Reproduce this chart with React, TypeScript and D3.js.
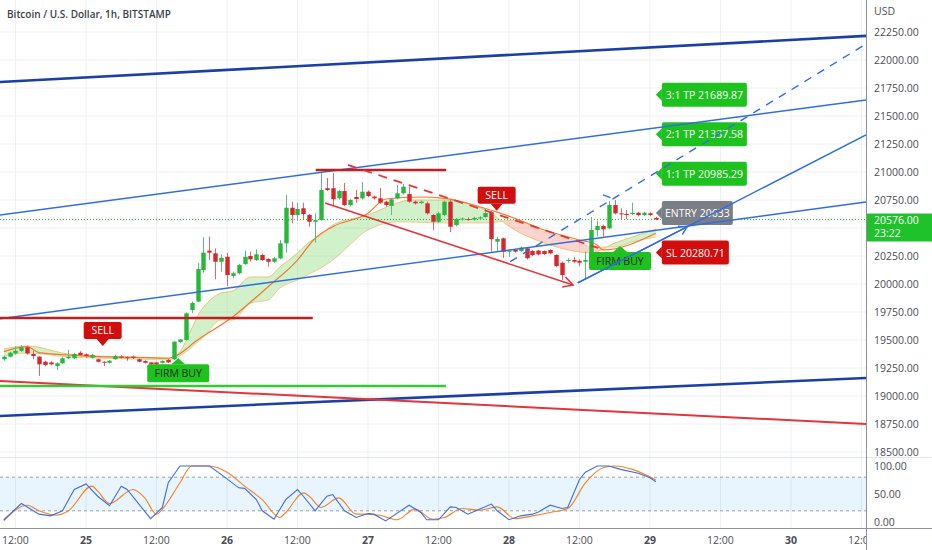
import React from 'react';
import * as d3 from 'd3';

// ---------- DATA ----------
// hourly candles, hour offset from 24 Sep 00:00, first candle at firstHour
const firstHour = 10;
const candleOpen = [
  19328, 19351, 19381, 19404, 19435, 19375, 19351, 19306, 19300, 19268, 19292, 19337, 19337, 19386, 19372, 19342,
  19328, 19306, 19297, 19328, 19351, 19346, 19351, 19328, 19312, 19300, 19300, 19297, 19321, 19328, 19483, 19500,
  19768, 19843, 20125, 20298, 20274, 20199, 20243, 20072, 20096, 20179, 20250, 20214, 20259, 20223, 20199, 20229,
  20363, 20681, 20616, 20676, 20616, 20556, 20571, 20855, 20855, 20766, 20830, 20705, 20777, 20765, 20824, 20780,
  20765, 20735, 20697, 20765, 20810, 20803, 20735, 20723, 20720, 20616, 20556, 20616, 20735, 20527, 20575, 20580,
  20575, 20585, 20598, 20640, 20378, 20408, 20289, 20304, 20295, 20319, 20295, 20298, 20295, 20304, 20259, 20190,
  20207, 20214, 20207, 20199, 20214, 20482, 20518, 20497, 20705, 20631, 20625, 20625, 20636, 20616, 20631, 20590,
];
const candleHigh = [
  19360, 19395, 19445, 19455, 19450, 19404, 19355, 19315, 19310, 19300, 19345, 19411, 19385, 19400, 19380, 19375,
  19335, 19310, 19320, 19370, 19365, 19355, 19360, 19335, 19320, 19305, 19305, 19320, 19330, 19490, 19510, 19745,
  19843, 20187, 20417, 20423, 20318, 20265, 20277, 20110, 20180, 20298, 20289, 20310, 20270, 20230, 20240, 20393,
  20795, 20735, 20726, 20726, 20625, 20631, 20998, 20947, 20991, 20840, 20902, 20760, 20839, 20911, 20835, 20790,
  20857, 20745, 20765, 20884, 20893, 20869, 20745, 20745, 20735, 20625, 20640, 20745, 20759, 20590, 20595, 20595,
  20600, 20605, 20680, 20650, 20423, 20415, 20305, 20315, 20335, 20330, 20305, 20305, 20300, 20310, 20265, 20200,
  20230, 20240, 20220, 20289, 20598, 20565, 20530, 20741, 20750, 20676, 20661, 20726, 20645, 20645, 20640, 20600,
];
const candleLow = [
  19315, 19345, 19370, 19395, 19370, 19328, 19179, 19265, 19275, 19232, 19285, 19330, 19330, 19360, 19340, 19335,
  19300, 19268, 19290, 19325, 19335, 19315, 19330, 19300, 19290, 19275, 19275, 19290, 19295, 19320, 19475, 19495,
  19740, 19838, 20101, 20214, 20042, 20110, 19982, 20050, 20085, 20170, 20199, 20205, 20205, 20155, 20190, 20220,
  20280, 20542, 20565, 20578, 20511, 20369, 20565, 20830, 20697, 20755, 20695, 20690, 20723, 20755, 20775, 20755,
  20715, 20690, 20616, 20755, 20800, 20725, 20710, 20715, 20620, 20482, 20545, 20605, 20464, 20515, 20565, 20565,
  20565, 20575, 20590, 20288, 20288, 20232, 20243, 20280, 20285, 20220, 20250, 20255, 20260, 20265, 20150, 20036,
  20190, 20185, 20160, 20036, 20205, 20423, 20423, 20490, 20620, 20571, 20580, 20615, 20605, 20605, 20605, 20570,
];
const candleClose = [
  19351, 19386, 19404, 19434, 19380, 19357, 19283, 19277, 19283, 19292, 19337, 19351, 19375, 19366, 19357, 19366,
  19306, 19297, 19315, 19357, 19342, 19337, 19340, 19306, 19297, 19283, 19283, 19312, 19300, 19485, 19505, 19738,
  19830, 20134, 20280, 20280, 20199, 20234, 20080, 20096, 20170, 20243, 20220, 20265, 20214, 20199, 20229, 20363,
  20681, 20616, 20670, 20625, 20556, 20571, 20839, 20839, 20757, 20830, 20705, 20750, 20759, 20824, 20786, 20765,
  20726, 20705, 20756, 20810, 20869, 20735, 20720, 20735, 20631, 20556, 20631, 20735, 20511, 20580, 20584, 20575,
  20590, 20595, 20633, 20402, 20402, 20288, 20298, 20289, 20325, 20230, 20259, 20265, 20268, 20274, 20161, 20080,
  20214, 20199, 20190, 20214, 20482, 20518, 20488, 20705, 20631, 20625, 20616, 20636, 20616, 20636, 20616, 20576,
];
const lastPrice = 20576;
const lastPriceTime = '23:22';

// EMA ribbon (fast / slow) and orange EMA, sampled at hours
const ribbonHours = [10, 14, 21, 26, 32, 38, 39, 44, 47, 49, 52, 55, 57, 60, 62, 64, 66, 72, 77, 79, 85, 92, 97, 102, 108, 110, 114, 117, 121];
const ribbonFast = [19420, 19447, 19375, 19357, 19348, 19339, 19348, 19795, 19920, 19938, 20063, 20063, 20152, 20277, 20375, 20438, 20527, 20616, 20723, 20750, 20750, 20661, 20482, 20366, 20286, 20277, 20366, 20420, 20491];
const ribbonSlow = [19357, 19384, 19348, 19339, 19330, 19322, 19335, 19527, 19679, 19679, 19830, 19857, 19964, 20036, 20090, 20143, 20214, 20482, 20554, 20554, 20545, 20545, 20572, 20465, 20375, 20330, 20330, 20375, 20420];
const emaHours = [10, 14, 16, 21, 26, 32, 38, 39, 43, 49, 55, 60, 63, 66, 72, 75, 81, 85, 91, 97, 102, 108, 111, 112, 121];
const emaValues = [19396, 19440, 19387, 19366, 19351, 19346, 19337, 19351, 19500, 19708, 19976, 20214, 20408, 20512, 20631, 20759, 20777, 20765, 20690, 20587, 20482, 20393, 20348, 20304, 20453];

// Stochastic %K and %D
const stochKHours = [10, 13, 16, 18, 20, 22, 24, 26, 28, 30, 31, 35, 37, 38, 40, 45, 47, 50, 51, 53, 54, 56, 58, 60, 61, 63, 65, 66, 68, 70, 72, 73, 75, 79, 81, 82, 84, 86, 87, 89, 93, 94, 96, 98, 100, 101, 103, 105, 106, 108, 109, 111, 113, 115, 118, 120, 121];
const stochK = [4, 33, 14, 11, 20, 58, 68, 46, 29, 64, 58, 6, 26, 70, 100, 100, 85, 61, 60, 40, 20, 5, 40, 58, 46, 20, 46, 49, 20, 8, 15, 14, 2, 30, 17, 4, 4, 27, 26, 14, 32, 20, 4, 11, 14, 18, 30, 24, 26, 76, 89, 100, 100, 94, 87, 79, 72];
const stochDHours = [10, 14, 16, 19, 21, 25, 26, 28, 32, 34, 36, 37, 40, 42, 45, 48, 51, 54, 57, 58, 61, 62, 64, 67, 70, 71, 74, 77, 80, 83, 85, 88, 91, 94, 97, 100, 103, 106, 109, 112, 114, 117, 121];
const stochD = [2, 30, 20, 12, 20, 64, 55, 33, 58, 43, 14, 23, 70, 100, 100, 89, 64, 40, 8, 17, 52, 46, 26, 43, 14, 14, 12, 4, 23, 5, 8, 24, 21, 27, 6, 11, 17, 24, 70, 97, 100, 94, 75];

// Drawings: [hour1, price1, hour2, price2]
const navyChannel = [[9.36, 21804, 156.77, 22215], [9.36, 18822, 156.77, 19161]];
const blueChannel = [[9.36, 20616, 156.77, 21643], [9.36, 19690, 156.77, 20732], [107.7, 20009, 156.77, 21331]];
const blueDashed = [[96.2, 20199, 156.77, 22143], [112, 20795, 113.9, 20759]];
const blueArrow = [[107.7, 20009, 126.3, 20510]];
const redTrend = [[9.36, 19134, 156.77, 18750]];
const redLevels = [[63.1, 21018, 85.3, 21018], [9.36, 19697, 62.6, 19697]];
const greenLevels = [[9.36, 19089, 85.3, 19089]];
const redDashed = [[68.6, 21063, 111.2, 20322]];
const redArrow = [[64.7, 20723, 106.9, 19991]];

// Signal labels: [hour, price]
const sellSignals = [[26.84, 19447], [93.9, 20655]];
const buySignals = [[39.7, 19337], [114.9, 20339]];
const riskHour = 121;
const riskTexts = ['3:1 TP 21689.87', '2:1 TP 21337.58', '1:1 TP 20985.29', 'ENTRY 20633', 'SL 20280.71'];
const riskPrices = [21689.87, 21337.58, 20985.29, 20633, 20280.71];
const riskKinds = ['tp', 'tp', 'tp', 'entry', 'sl'];

// Axes
const priceTicks = [22250, 22000, 21750, 21500, 21250, 21000, 20750, 20500, 20250, 20000, 19750, 19500, 19250, 19000, 18750, 18500];
const stochTicks = [100, 50, 0];
const timeTickHours = [12, 24, 36, 48, 60, 72, 84, 96, 108, 120, 132, 144, 156];
const timeTickLabels = ['12:00', '25', '12:00', '26', '12:00', '27', '12:00', '28', '12:00', '29', '12:00', '30', '12:00'];
const title = 'Bitcoin / U.S. Dollar, 1h, BITSTAMP';

// ---------- CHART ----------
const W = 932;
const H = 550;
const PLOT_R = 866;
const MAIN_B = 457;
const STOCH_B = 528;
const FONT = "'Open Sans', 'DejaVu Sans', sans-serif";

export default function App() {
  const x = d3.scaleLinear().domain([9.362, 156.77]).range([0, PLOT_R]);
  const y = d3.scaleLinear().domain([18500, 22250]).range([452, 32]);
  const ys = d3.scaleLinear().domain([0, 100]).range([522, 466]);

  const seg = (d: number[]) => ({ x1: x(d[0]), y1: y(d[1]), x2: x(d[2]), y2: y(d[3]) });

  const arrowHead = (d: number[], len = 10, spread = 0.5) => {
    const s = seg(d);
    const a = Math.atan2(s.y2 - s.y1, s.x2 - s.x1);
    const p1 = [s.x2 - len * Math.cos(a - spread), s.y2 - len * Math.sin(a - spread)];
    const p2 = [s.x2 - len * Math.cos(a + spread), s.y2 - len * Math.sin(a + spread)];
    return `M${p1[0]},${p1[1]}L${s.x2},${s.y2}L${p2[0]},${p2[1]}`;
  };

  const ribbon = ribbonHours.map((h, i) => ({ h, f: ribbonFast[i], s: ribbonSlow[i] }));
  const curve = d3.curveMonotoneX;
  const between = d3.area<any>().x((d) => x(d.h)).y0((d) => y(d.f)).y1((d) => y(d.s)).curve(curve)(ribbon) || '';
  const aboveSlow = d3.area<any>().x((d) => x(d.h)).y0(0).y1((d) => y(d.s)).curve(curve)(ribbon) || '';
  const belowSlow = d3.area<any>().x((d) => x(d.h)).y0(H).y1((d) => y(d.s)).curve(curve)(ribbon) || '';
  const fastLine = d3.line<any>().x((d) => x(d.h)).y((d) => y(d.f)).curve(curve)(ribbon) || '';
  const slowLine = d3.line<any>().x((d) => x(d.h)).y((d) => y(d.s)).curve(curve)(ribbon) || '';
  const emaLine = d3.line<number>().x((h) => x(h)).y((h, i) => y(emaValues[i])).curve(curve)(emaHours) || '';

  const kLine = d3.line<number>().x((h) => x(h)).y((h, i) => ys(stochK[i]))(stochKHours) || '';
  const dLine = d3.line<number>().x((h) => x(h)).y((h, i) => ys(stochD[i])).curve(d3.curveMonotoneX)(stochDHours) || '';

  const GREEN = '#26b83a';
  const RED = '#d7262d';
  const GREEN_WICK = '#5db896';
  const RED_WICK = '#e8646c';
  const LABEL_GREEN = '#1ec21e';
  const LABEL_RED = '#d10d0d';

  const boxTop = y(lastPrice) - 6;
  const boxBottom = boxTop + 28;

  return (
    <svg width={W} height={H} style={{ position: 'absolute', left: 0, top: 0, background: '#fff' }} fontFamily={FONT}>
      <defs>
        <clipPath id="plot"><rect x={0} y={0} width={PLOT_R} height={MAIN_B} /></clipPath>
        <clipPath id="stoch"><rect x={0} y={MAIN_B + 1} width={PLOT_R} height={STOCH_B - MAIN_B - 1} /></clipPath>
        <clipPath id="timeAxis"><rect x={0} y={STOCH_B} width={PLOT_R} height={H - STOCH_B} /></clipPath>
        <clipPath id="aboveSlow"><path d={aboveSlow} /></clipPath>
        <clipPath id="belowSlow"><path d={belowSlow} /></clipPath>
      </defs>
      <rect x={0} y={0} width={W} height={H} fill="#fff" />

      {/* grid */}
      {timeTickHours.map((h, i) => (
        <line key={'vg' + i} x1={x(h)} x2={x(h)} y1={0} y2={STOCH_B} stroke="#eef0f4" strokeWidth={1} />
      ))}
      {priceTicks.map((p, i) => (
        <line key={'hg' + i} x1={0} x2={PLOT_R} y1={y(p)} y2={y(p)} stroke="#eef0f4" strokeWidth={1} />
      ))}

      {/* title */}
      <text x={7} y={18} fontSize={10} fontWeight={600} fill="#3b3f4a">{title}</text>

      <g clipPath="url(#plot)">
        {/* ribbon */}
        <path d={between} fill="rgba(110,210,90,0.32)" clipPath="url(#aboveSlow)" />
        <path d={between} fill="rgba(240,120,100,0.32)" clipPath="url(#belowSlow)" />
        <path d={fastLine} fill="none" stroke="#f1b45e" strokeWidth={0.8} />
        <path d={slowLine} fill="none" stroke="#efc27e" strokeWidth={0.8} />
        <path d={emaLine} fill="none" stroke="#f07a2a" strokeWidth={1.2} />

        {/* last price dotted */}
        <line x1={0} x2={PLOT_R} y1={y(lastPrice)} y2={y(lastPrice)} stroke={GREEN} strokeWidth={1} strokeDasharray="1,2" />

        {/* candles */}
        {candleOpen.map((o, i) => {
          const c = candleClose[i];
          const cx = Math.round(x(firstHour + i)) + 0.5;
          const up = c >= o;
          const top = y(Math.max(o, c));
          const bot = y(Math.min(o, c));
          return (
            <g key={'c' + i}>
              <line x1={cx} x2={cx} y1={y(candleHigh[i])} y2={y(candleLow[i])} stroke={up ? GREEN_WICK : RED_WICK} strokeWidth={1} />
              <rect x={cx - 2.2} y={top} width={4.4} height={Math.max(1, bot - top)} fill={up ? GREEN : RED} />
            </g>
          );
        })}

        {/* sell labels */}
        {sellSignals.map((s, i) => {
          const cx = x(s[0]);
          const tip = y(s[1]);
          const w = 38, h = 17, ptr = 7;
          const top = tip - ptr - h;
          return (
            <g key={'sell' + i}>
              <rect x={cx - w / 2} y={top} width={w} height={h} rx={2} fill={LABEL_RED} />
              <path d={`M${cx - 6},${top + h}L${cx + 6},${top + h}L${cx},${tip}Z`} fill={LABEL_RED} />
              <text x={cx} y={top + h / 2 + 4} textAnchor="middle" fontSize={10.5} fill="#fff">SELL</text>
            </g>
          );
        })}

        {/* buy labels */}
        {buySignals.map((s, i) => {
          const cx = x(s[0]);
          const tip = y(s[1]);
          const w = 62, h = 18, ptr = 6;
          const top = tip + ptr;
          return (
            <g key={'buy' + i}>
              <rect x={cx - w / 2} y={top} width={w} height={h} rx={2} fill={LABEL_GREEN} />
              <path d={`M${cx - 7},${top}L${cx + 7},${top}L${cx},${tip}Z`} fill={LABEL_GREEN} />
              <text x={cx} y={top + h / 2 + 4} textAnchor="middle" fontSize={10.5} fill="#1d2b1d">FIRM BUY</text>
            </g>
          );
        })}

        {/* risk labels */}
        {riskTexts.map((t, i) => {
          const tipX = x(riskHour);
          const cy = y(riskPrices[i]);
          const kind = riskKinds[i];
          const w = kind === 'tp' ? 85 : kind === 'entry' ? 71 : 67;
          const h = 24, ptr = 6;
          const left = tipX + ptr;
          const fill = kind === 'tp' ? LABEL_GREEN : kind === 'entry' ? '#7b7e86' : LABEL_RED;
          return (
            <g key={'risk' + i}>
              <rect x={left} y={cy - h / 2} width={w} height={h} rx={2} fill={fill} />
              <path d={`M${left},${cy - 6}L${left},${cy + 6}L${tipX},${cy}Z`} fill={fill} />
              <text x={left + w / 2} y={cy + 4} textAnchor="middle" fontSize={10.5} fill="#fff">{t}</text>
            </g>
          );
        })}

        {/* drawings */}
        {navyChannel.map((d, i) => <line key={'nv' + i} {...seg(d)} stroke="#1b3fa6" strokeWidth={2.6} />)}
        {blueChannel.map((d, i) => <line key={'bc' + i} {...seg(d)} stroke="#2f6ee0" strokeWidth={1.4} />)}
        {blueDashed.map((d, i) => <line key={'bd' + i} {...seg(d)} stroke="#2f6ee0" strokeWidth={1.4} strokeDasharray="8,7" />)}
        {blueArrow.map((d, i) => (
          <g key={'ba' + i}>
            <line {...seg(d)} stroke="#2f6ee0" strokeWidth={1.4} />
            <path d={arrowHead(d, 9, 0.55)} fill="none" stroke="#2f6ee0" strokeWidth={1.4} />
          </g>
        ))}
        {redTrend.map((d, i) => <line key={'rt' + i} {...seg(d)} stroke="#e5343b" strokeWidth={2} />)}
        {redLevels.map((d, i) => <line key={'rl' + i} {...seg(d)} stroke="#c41d1d" strokeWidth={2.6} />)}
        {greenLevels.map((d, i) => <line key={'gl' + i} {...seg(d)} stroke="#37c837" strokeWidth={2.6} />)}
        {redDashed.map((d, i) => <line key={'rd' + i} {...seg(d)} stroke="#e5343b" strokeWidth={1.8} strokeDasharray="9,7" />)}
        {redArrow.map((d, i) => (
          <g key={'ra' + i}>
            <line {...seg(d)} stroke="#e5343b" strokeWidth={1.6} />
            <path d={arrowHead(d, 11, 0.5)} fill="none" stroke="#e5343b" strokeWidth={1.6} />
          </g>
        ))}
      </g>

      {/* pane separator */}
      <line x1={0} x2={W} y1={MAIN_B + 0.5} y2={MAIN_B + 0.5} stroke="#e0e3eb" strokeWidth={1} />

      {/* stochastic pane */}
      <g clipPath="url(#stoch)">
        <rect x={0} y={ys(80)} width={PLOT_R} height={ys(20) - ys(80)} fill="rgba(33,150,243,0.1)" />
        <line x1={0} x2={PLOT_R} y1={ys(80)} y2={ys(80)} stroke="#9a9ea6" strokeWidth={1} strokeDasharray="3,3" />
        <line x1={0} x2={PLOT_R} y1={ys(20)} y2={ys(20)} stroke="#9a9ea6" strokeWidth={1} strokeDasharray="3,3" />
        <path d={dLine} fill="none" stroke="#f5821f" strokeWidth={1.1} />
        <path d={kLine} fill="none" stroke="#3d6fe0" strokeWidth={1.1} />
      </g>

      {/* axes borders */}
      <line x1={PLOT_R + 0.5} x2={PLOT_R + 0.5} y1={0} y2={H} stroke="#8e9196" strokeWidth={1} />
      <line x1={0} x2={W} y1={STOCH_B + 0.5} y2={STOCH_B + 0.5} stroke="#8e9196" strokeWidth={1} />

      {/* price axis (labels hidden under the last-price box are skipped) */}
      <text x={874} y={15} fontSize={10.5} fill="#4a4d55">USD</text>
      {priceTicks.filter((p) => y(p) + 6 < boxTop || y(p) - 6 > boxBottom).map((p, i) => (
        <text key={'pt' + i} x={874} y={y(p) + 4} fontSize={10.5} fill="#4a4d55">{p.toFixed(2)}</text>
      ))}
      <rect x={PLOT_R + 1} y={boxTop} width={W - PLOT_R - 1} height={28} fill="#1fc22a" />
      <text x={874} y={y(lastPrice) + 5} fontSize={10.5} fill="#fff">{lastPrice.toFixed(2)}</text>
      <text x={874} y={y(lastPrice) + 18} fontSize={10.5} fill="#fff">{lastPriceTime}</text>

      {/* stoch axis */}
      {stochTicks.map((v, i) => (
        <text key={'st' + i} x={874} y={ys(v) + 4} fontSize={10.5} fill="#4a4d55">{v.toFixed(2)}</text>
      ))}

      {/* time axis */}
      <g clipPath="url(#timeAxis)">
        {timeTickHours.map((h, i) => (
          <text key={'tt' + i} x={x(h)} y={544} textAnchor="middle" fontSize={10.5}
            fontWeight={timeTickLabels[i].length <= 2 ? 700 : 400} fill="#4a4d55">{timeTickLabels[i]}</text>
        ))}
      </g>
    </svg>
  );
}
